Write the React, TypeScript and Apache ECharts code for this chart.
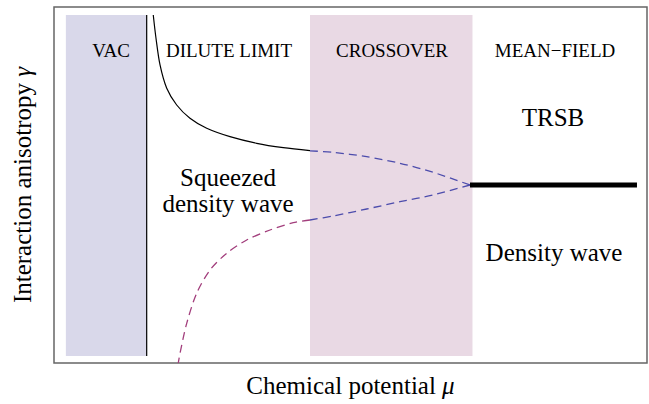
import React, { useEffect, useRef } from "react";
import * as echarts from "echarts";

// Data coordinates: x = chemical potential (0..100), y = interaction anisotropy (0..100)
const vacBand = [2.0, 15.63];
const crossoverBand = [43.17, 70.57];
const bandY = [1.97, 97.75];

const upperCurveX = [16.74, 17.2, 17.88, 19.01, 20.69, 22.93, 25.75, 29.68, 34.18, 38.67, 43.17];
const upperCurveY = [97.75, 91.21, 83.71, 77.16, 72.47, 68.74, 65.93, 63.57, 61.71, 60.48, 59.63];

const upperDashX = [43.17, 47.05, 52.73, 58.35, 63.91, 70.15];
const upperDashY = [59.6, 59.18, 57.95, 56.1, 53.57, 50.0];

const lowerDashX = [70.15, 63.91, 58.35, 52.73, 47.05, 43.17];
const lowerDashY = [50.0, 47.19, 45.31, 43.26, 41.29, 40.17];

const purpleDashX = [43.17, 40.35, 36.43, 32.5, 29.12, 26.31, 24.06, 22.38, 21.25, 20.96];
const purpleDashY = [40.17, 39.41, 37.36, 34.55, 30.81, 26.12, 19.58, 11.15, 2.72, 0];

const transitionX = [70.15, 98.31];
const transitionY = [50.0, 50.0];

const zip = (xs: number[], ys: number[]) => xs.map((x, i) => [x, ys[i]]);

const FONT = "'Liberation Serif', 'Times New Roman', serif";

export default function App() {
  const ref = useRef<HTMLDivElement>(null);
  useEffect(() => {
    if (!ref.current) return;
    const chart = echarts.init(ref.current, null, { renderer: "svg" });
    const dash = { type: [8, 5] as any };
    const txt = (x: number, y: number, text: string, size: number) => ({
      type: "text",
      x,
      y,
      z: 100,
      zlevel: 1,
      style: { text, font: `${size}px ${FONT}`, fill: "#000", align: "center", verticalAlign: "middle" },
    });
    chart.setOption({
      animation: false,
      backgroundColor: "#ffffff",
      grid: {
        left: 54,
        right: 2,
        top: 7,
        bottom: 41,
        show: true,
        borderColor: "#666666",
        borderWidth: 1.5,
        backgroundColor: "transparent",
      },
      xAxis: {
        type: "value",
        min: 0,
        max: 100,
        axisLine: { show: false },
        axisTick: { show: false },
        axisLabel: { show: false },
        splitLine: { show: false },
        name: "{a|Chemical potential }{b|μ}",
        nameLocation: "middle",
        nameGap: 10,
        nameTextStyle: {
          rich: {
            a: { fontFamily: FONT, fontSize: 25, color: "#000" },
            b: { fontFamily: FONT, fontSize: 25, fontStyle: "italic", color: "#000" },
          },
        },
      },
      yAxis: {
        type: "value",
        min: 0,
        max: 100,
        axisLine: { show: false },
        axisTick: { show: false },
        axisLabel: { show: false },
        splitLine: { show: false },
        name: "{a|Interaction anisotropy }{b|γ}",
        nameLocation: "middle",
        nameGap: 19,
        nameTextStyle: {
          rich: {
            a: { fontFamily: FONT, fontSize: 25, color: "#000" },
            b: { fontFamily: FONT, fontSize: 25, fontStyle: "italic", color: "#000" },
          },
        },
      },
      series: [
        {
          type: "line",
          data: [],
          silent: true,
          markArea: {
            silent: true,
            data: [
              [
                { xAxis: vacBand[0], yAxis: bandY[0], itemStyle: { color: "#d9d8ea" } },
                { xAxis: vacBand[1], yAxis: bandY[1] },
              ],
              [
                { xAxis: crossoverBand[0], yAxis: bandY[0], itemStyle: { color: "#e9d9e4" } },
                { xAxis: crossoverBand[1], yAxis: bandY[1] },
              ],
            ],
          },
        },
        {
          type: "line",
          data: [
            [vacBand[1], bandY[0]],
            [vacBand[1], bandY[1]],
          ],
          symbol: "none",
          lineStyle: { color: "#000", width: 1.2 },
        },
        {
          type: "line",
          data: zip(upperCurveX, upperCurveY),
          smooth: 0.3,
          symbol: "none",
          lineStyle: { color: "#000", width: 1.2 },
        },
        {
          type: "line",
          data: zip(upperDashX, upperDashY),
          smooth: 0.3,
          symbol: "none",
          lineStyle: { color: "#4c4cac", width: 1.3, ...dash },
        },
        {
          type: "line",
          data: zip(lowerDashX, lowerDashY),
          smooth: 0.3,
          symbol: "none",
          lineStyle: { color: "#4c4cac", width: 1.3, ...dash },
        },
        {
          type: "line",
          data: zip(purpleDashX, purpleDashY),
          smooth: 0.3,
          symbol: "none",
          lineStyle: { color: "#a23e7c", width: 1.3, ...dash },
        },
        {
          type: "line",
          data: zip(transitionX, transitionY),
          symbol: "none",
          lineStyle: { color: "#000", width: 5 },
        },
      ],
      graphic: [
        txt(111, 50, "VAC", 19),
        txt(229, 50, "DILUTE LIMIT", 19),
        txt(392, 50, "CROSSOVER", 19),
        txt(555, 50, "MEAN\u2212FIELD", 19),
        txt(553, 117, "TRSB", 25),
        txt(228, 177, "Squeezed", 25),
        txt(228, 203, "density wave", 25),
        txt(554, 252, "Density wave", 25),
      ],
    });
    return () => chart.dispose();
  }, []);
  return <div ref={ref} style={{ width: 649, height: 404, position: "absolute", left: 0, top: 0 }} />;
}
